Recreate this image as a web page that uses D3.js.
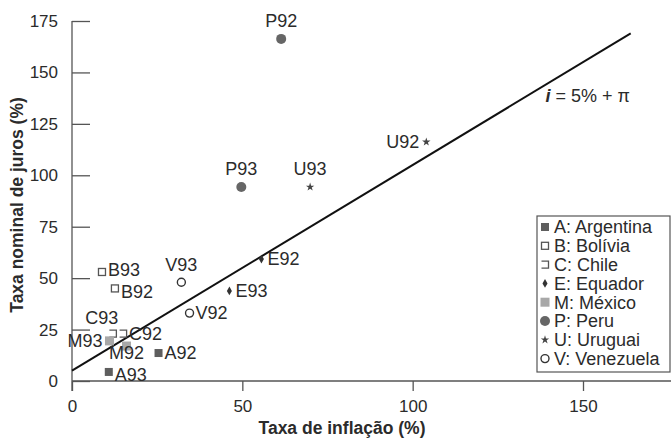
<!doctype html>
<html lang="pt">

<head>
  <meta charset="utf-8">
  <title>Taxa nominal de juros vs inflação - D3</title>
  <style>
    body { margin: 0; background: #fff; }
    svg { display: block; font-family: "Liberation Sans", Arial, sans-serif; }
  </style>
</head>

<body>
  <svg width="671" height="439"></svg>

  <script src="https://cdn.jsdelivr.net/npm/d3@7"></script>
  <script>
    // points: country code + year, inflation (x) and nominal interest (y), in %
    var points = ["A92", "A93", "B92", "B93", "C92", "C93", "E92", "E93",
      "M92", "M93", "P92", "P93", "U92", "U93", "V92", "V93"];
    var inflation = [25.4, 10.8, 12.6, 8.8, 15, 12, 55.6, 46.2,
      16, 11, 61.4, 49.7, 104, 69.9, 34.5, 32.1];
    var interest = [13.6, 4.4, 45, 53, 23, 23, 59.3, 43.8,
      17, 19.5, 166.3, 94.3, 116.2, 94.3, 33, 48];

    var codes = ["A", "B", "C", "E", "M", "P", "U", "V"];
    var countries = ["A: Argentina", "B: Bolívia", "C: Chile", "E: Equador",
      "M: México", "P: Peru", "U: Uruguai", "V: Venezuela"];

    var xTicks = [0, 50, 100, 150];
    var yTicks = [0, 25, 50, 75, 100, 125, 150, 175];
    var realRate = 5;          // i = 5% + pi
    var lineRange = [0, 164];

    // where the label goes relative to its point
    var labelSide = {
      A92: "right", A93: "rightlow", B92: "rightlow", B93: "rightup", C92: "right", C93: "topleft",
      E92: "right", E93: "right", M92: "bottom", M93: "left", P92: "top", P93: "top",
      U92: "left", U93: "top", V92: "right", V93: "top"
    };
    var dyBySide = { top: -18, topleft: -16, bottom: 7, rightlow: 3, rightup: -2, right: 0, left: 0 };

    var svg = d3.select("svg");
    var ink = "#2b2b2b";

    var x = d3.scaleLinear().domain([0, 150]).range([72, 583]);
    var y = d3.scaleLinear().domain([0, 175]).range([381, 21]);

    // x axis
    var gx = svg.append("g")
      .attr("transform", "translate(0," + y(0) + ")")
      .call(d3.axisBottom(x).tickValues(xTicks).tickSize(10).tickSizeOuter(0).tickPadding(9));
    gx.select(".domain").attr("d", "M" + x(0) + ",0H671");

    // y axis, ticks point inward
    var gy = svg.append("g")
      .attr("transform", "translate(" + x(0) + ",0)")
      .call(d3.axisLeft(y).tickValues(yTicks).tickSize(-18).tickSizeOuter(0).tickPadding(14));
    gy.select(".domain").attr("d", "M0," + y(175) + "V" + (y(0) + 10));

    svg.selectAll(".domain, .tick line").attr("stroke", "#555").attr("stroke-width", 1.3);
    svg.selectAll(".tick text").attr("fill", ink).attr("font-size", 17)
      .attr("font-family", "Liberation Sans, Arial, sans-serif");

    // axis titles
    svg.append("text")
      .attr("x", 342).attr("y", 434)
      .attr("text-anchor", "middle")
      .attr("font-size", 17.5).attr("font-weight", "bold").attr("fill", ink)
      .text("Taxa de inflação (%)");

    svg.append("text")
      .attr("transform", "translate(23,205) rotate(-90)")
      .attr("text-anchor", "middle")
      .attr("font-size", 17.5).attr("font-weight", "bold").attr("fill", ink)
      .text("Taxa nominal de juros (%)");

    // reference line i = 5% + pi
    svg.append("path")
      .datum(lineRange)
      .attr("fill", "none")
      .attr("stroke", "#111")
      .attr("stroke-width", 2)
      .attr("d", d3.line().x(d => x(d)).y(d => y(realRate + d)));

    var eq = svg.append("text")
      .attr("x", x(139)).attr("y", y(139) + 7)
      .attr("font-size", 18).attr("fill", ink);
    eq.append("tspan").attr("font-style", "italic").attr("font-weight", "bold").text("i");
    eq.append("tspan").text(" = 5% + π");

    // markers
    function drawMarker(g, code) {
      if (code === "A") {
        g.append("rect").attr("x", -4).attr("y", -4).attr("width", 8).attr("height", 8).attr("fill", "#5e5e5e");
      } else if (code === "B") {
        g.append("rect").attr("x", -3.5).attr("y", -3.5).attr("width", 7).attr("height", 7)
          .attr("fill", "none").attr("stroke", "#555").attr("stroke-width", 1.3);
      } else if (code === "C") {
        g.append("path").attr("d", "M-3.5,-3.5H3.5V3.5H-3.5")
          .attr("fill", "none").attr("stroke", "#555").attr("stroke-width", 1.3);
      } else if (code === "E") {
        g.append("path").attr("d", d3.symbol(d3.symbolDiamond, 22)).attr("fill", "#333");
      } else if (code === "M") {
        g.append("rect").attr("x", -4.5).attr("y", -4.5).attr("width", 9).attr("height", 9).attr("fill", "#a8a8a8");
      } else if (code === "P") {
        g.append("circle").attr("r", 5).attr("fill", "#666");
      } else if (code === "U") {
        g.append("path").attr("d", d3.symbol(d3.symbolStar, 22)).attr("fill", "#444");
      } else if (code === "V") {
        g.append("circle").attr("r", 4).attr("fill", "#fff")
          .attr("stroke", "#333").attr("stroke-width", 1.4);
      }
    }

    var pts = svg.append("g").selectAll("g").data(points).enter()
      .append("g")
      .attr("transform", (d, i) => "translate(" + x(inflation[i]) + "," + y(interest[i]) + ")");

    pts.each(function (d) { drawMarker(d3.select(this), d[0]); });

    pts.append("text")
      .text(d => d)
      .attr("font-size", 18)
      .attr("fill", ink)
      .attr("dy", "0.35em")
      .attr("text-anchor", d => {
        var s = labelSide[d];
        return s.indexOf("right") === 0 ? "start" : s === "left" ? "end" : "middle";
      })
      .attr("x", d => {
        var s = labelSide[d];
        return s.indexOf("right") === 0 ? 6 : s === "left" ? -7 : s === "topleft" ? -11 : 0;
      })
      .attr("y", d => dyBySide[labelSide[d]]);

    // legend
    var lg = svg.append("g").attr("transform", "translate(537,216)");
    lg.append("rect")
      .attr("width", 133).attr("height", 156)
      .attr("fill", "#fff").attr("stroke", "#555").attr("stroke-width", 1.2);

    var rows = lg.selectAll("g").data(codes).enter()
      .append("g")
      .attr("transform", (d, i) => "translate(8," + (11 + i * 18.8) + ")");
    rows.each(function (d) { drawMarker(d3.select(this), d); });
    rows.append("text")
      .attr("x", 9).attr("dy", "0.35em")
      .attr("font-size", 18).attr("fill", ink)
      .text((d, i) => countries[i]);
  </script>
</body>

</html>
